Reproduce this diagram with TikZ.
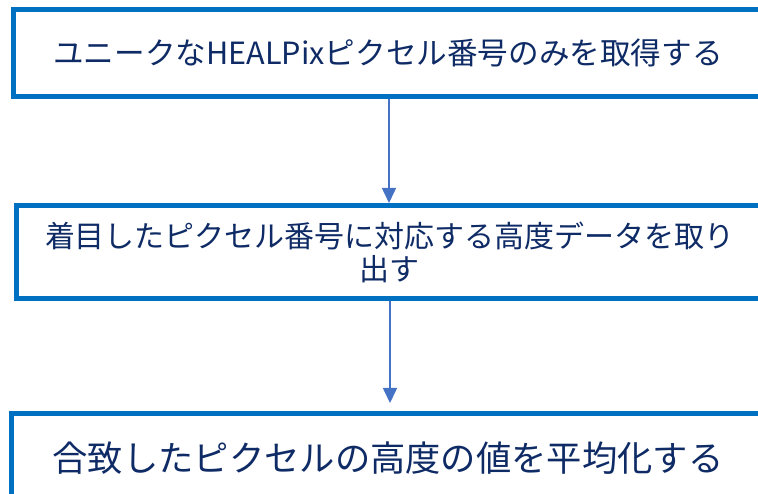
\documentclass[tikz,border=0pt]{standalone}
\usepackage{fontspec}
\setmainfont{Noto Sans CJK JP}
\usetikzlibrary{arrows.meta}
\definecolor{boxblue}{HTML}{0070C0}
\definecolor{arrblue}{HTML}{4472C4}
\definecolor{txtnavy}{HTML}{0F2B66}
\begin{document}
\begin{tikzpicture}[x=1pt,y=1pt,
  stepbox/.style={draw=boxblue,line width=5pt,fill=white,inner sep=0pt,text=txtnavy,align=center},
  arr/.style={draw=arrblue,line width=1.6pt,-{Triangle[length=15pt,width=14pt]}}]
\useasboundingbox (0,0) rectangle (758,494);
\clip (0,0) rectangle (758,494);
\node[stepbox,minimum width=749pt,minimum height=87pt,font=\fontsize{30.6}{36}\selectfont] (n1) at (388,441) {ユニークなHEALPixピクセル番号のみを取得する};
\node[stepbox,minimum width=747pt,minimum height=93pt,font=\fontsize{30}{33}\selectfont] (n2) at (390,242) {着目したピクセル番号に対応する高度データを取り\\出す};
\node[stepbox,minimum width=753pt,minimum height=88.5pt,font=\fontsize{35.3}{40}\selectfont] (n3) at (388,36.25) {合致したピクセルの高度の値を平均化する};
\coordinate (a1) at ([xshift=1pt]n1.south);
\coordinate (a2) at (n2.south);
\draw[arr] (a1) -- (a1 |- n2.north);
\draw[arr,shorten >=8pt] (a2) -- (a2 |- n3.north);
\end{tikzpicture}
\end{document}
